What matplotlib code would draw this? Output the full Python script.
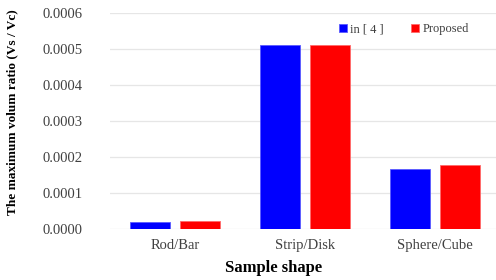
import numpy as np
import matplotlib
matplotlib.use("Agg")
import matplotlib.pyplot as plt

# data
shapes = ["Rod/Bar", "Strip/Disk", "Sphere/Cube"]
ref4 = [0.0000195, 0.000510, 0.000167]
proposed = [0.000023, 0.000510, 0.000177]
series_names = ["in [ 4 ]", "Proposed"]
yticks = [0.0, 0.0001, 0.0002, 0.0003, 0.0004, 0.0005, 0.0006]

plt.rcParams["font.family"] = ["Liberation Serif", "DejaVu Serif"]

W, H = 496, 280
fig = plt.figure(figsize=(W / 100, H / 100), dpi=100)
ax = fig.add_axes([110 / W, (H - 229) / H, 386 / W, 216 / H])

x = np.arange(len(shapes))
bw = 0.31
ax.bar(x - 0.19, ref4, bw, color="#0000ff", edgecolor="#5a5aff", linewidth=0.6,
       label=series_names[0], zorder=3)
ax.bar(x + 0.19, proposed, bw, color="#ff0000", edgecolor="#ff6a6a", linewidth=0.6,
       label=series_names[1], zorder=3)

ax.set_xlim(-0.5, 2.5 - 4 / 130)
ax.set_ylim(0, 0.0006)
ax.set_yticks(yticks)
ax.set_yticklabels([f"{v:.4f}" for v in yticks])
ax.set_xticks(x)
ax.set_xticklabels(shapes)
ax.tick_params(length=0, labelsize=10.5, colors="#404040")
ax.tick_params(axis="y", pad=20)
ax.tick_params(axis="x", pad=7)
ax.grid(axis="y", color="#e6e6e6", linewidth=0.9, zorder=0)
for s in ax.spines.values():
    s.set_visible(False)

fig.text(12 / W, 1 - 112 / H, "The maximum volum ratio (Vs / Vc)", rotation=90,
         ha="center", va="center", fontsize=9.5, fontweight="bold")
fig.text(274 / W, 1 - 268 / H, "Sample shape", ha="center", va="center",
         fontsize=12, fontweight="bold")

leg = ax.legend(loc="center", bbox_to_anchor=(404 / W, 1 - 29 / H),
                bbox_transform=fig.transFigure, ncol=2, frameon=False,
                fontsize=9, handlelength=0.6, handleheight=0.6,
                handletextpad=0.3, columnspacing=2.2)
for t in leg.get_texts():
    t.set_color("#404040")

fig.savefig("out.png", dpi=100)
